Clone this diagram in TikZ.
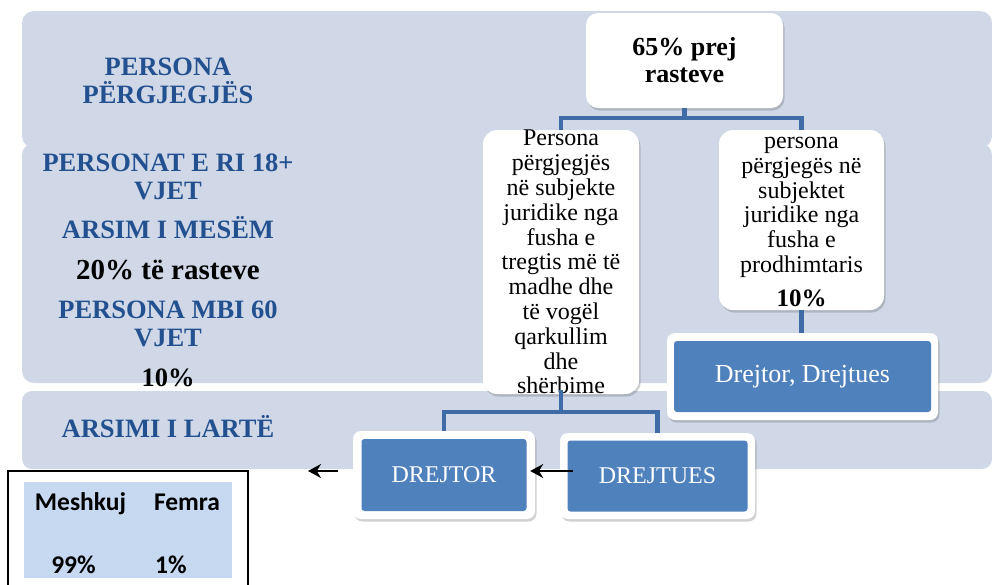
\documentclass[tikz,border=0pt]{standalone}
\usepackage{fontspec}
\setmainfont{Liberation Serif}
\newfontfamily\calfont{Carlito}
\usetikzlibrary{shadows,arrows.meta}
\definecolor{bandc}{HTML}{D0D8E8}
\definecolor{titleblue}{HTML}{23508F}
\definecolor{connc}{HTML}{3F6CA6}
\definecolor{boxblue}{HTML}{4F81BD}
\definecolor{tblfill}{HTML}{C6D9F1}
\begin{document}
\begin{tikzpicture}[x=1pt,y=-1pt,
  band/.style={fill=bandc,draw=none,rounded corners=12pt},
  headtxt/.style={text=titleblue,font=\fontsize{26.5}{28}\selectfont\bfseries,align=center,inner sep=0pt},
  numtxt/.style={text=black,font=\bfseries,inner sep=0pt},
  softshadow/.style={drop shadow={shadow xshift=1.5pt,shadow yshift=-2.5pt,fill=black!60,opacity=0.3}},
  whitebox/.style={fill=white,draw=none,rounded corners=12pt,softshadow,inner sep=0pt},
  childtxt/.style={font=\rmfamily\fontsize{24}{24.8}\selectfont,align=center,inner sep=0pt},
  outerbox/.style={fill=white,draw=none,rounded corners=8pt,softshadow,inner sep=0pt},
  innerbox/.style={fill=boxblue,draw=none,rounded corners=3pt,text=white,inner sep=0pt},
  conn/.style={draw=connc,line width=4.5pt},
  arr/.style={draw=black,line width=1.6pt,-{Stealth[length=13pt,width=14pt]}},
  tbltxt/.style={font=\calfont\bfseries\fontsize{25.5}{26}\selectfont,inner sep=0pt,anchor=base}
]
\useasboundingbox (0,0) rectangle (992,584);
% background bands
\fill[band] (22,11) rectangle (992,148);
\fill[band] (22,143) rectangle (992,383);
\fill[band,rounded corners=10pt] (22,391) rectangle (992,469);

% left headings
\node[headtxt] (h1) at (168,81) {PERSONA\\PËRGJEGJËS};
\node[headtxt] (h2) at (168,177) {PERSONAT E RI 18+\\VJET};
\node[headtxt,anchor=base] (h3) at (168,238) {ARSIM I MESËM};
\node[numtxt,font=\fontsize{29}{30}\selectfont\bfseries,anchor=base] (h4) at (168,279) {20\% të rasteve};
\node[headtxt] (h5) at (168,324) {PERSONA MBI 60\\VJET};
\node[numtxt,font=\fontsize{26.5}{28}\selectfont\bfseries,anchor=base] (h6) at (168,386) {10\%};
\node[headtxt,anchor=base] (h7) at (168,437) {ARSIMI I LARTË};

% hierarchy boxes
\node[whitebox,minimum width=197pt,minimum height=95pt,align=center,
      font=\fontsize{26}{27}\selectfont\bfseries] (top) at (684.5,60.5) {65\% prej\\rasteve};
\node[whitebox,rounded corners=14pt,minimum width=156pt,minimum height=264pt] (lc) at (561,262) {};
\node[childtxt,anchor=north] (lct) at (561,130) {Persona\\përgjegjës\\në subjekte\\juridike nga\\fusha e\\tregtis më të\\madhe dhe\\të vogël\\qarkullim\\dhe\\shërbime};
\node[whitebox,rounded corners=14pt,minimum width=165pt,minimum height=180pt] (rc) at (801.5,220) {};
\node[childtxt,anchor=north] (rct) at (801.5,137) {persona\\përgjegës në\\subjektet\\juridike nga\\fusha e\\prodhimtaris\\[9pt]\textbf{\fontsize{25}{25}\selectfont 10\%}};

\node[outerbox,minimum width=271pt,minimum height=87pt] (ddo) at (802.5,376.5) {};
\node[innerbox,minimum width=257pt,minimum height=71pt,font=\fontsize{26}{27}\selectfont] (dd) at (802.5,376.5) {Drejtor, Drejtues};

\node[outerbox,minimum width=182pt,minimum height=88pt] (dro) at (444,475) {};
\node[innerbox,minimum width=165pt,minimum height=72pt,font=\fontsize{24}{25}\selectfont] (dr) at (444,475) {DREJTOR};

\node[outerbox,minimum width=195pt,minimum height=86pt] (dto) at (657.5,476) {};
\node[innerbox,minimum width=180pt,minimum height=71pt,font=\fontsize{24}{25}\selectfont] (dt) at (657.5,476) {DREJTUES};

% connectors
\coordinate (hub1) at (684.5,118);
\coordinate (hub2) at (561,412);
\draw[conn] (top.south) -- (hub1);
\draw[conn] (hub1) -| (lc.north);
\draw[conn] (hub1) -| (rc.north);
\draw[conn] (rc.south) -- (rc.south |- ddo.north);
\draw[conn] ([yshift=4pt]lc.south) -- (hub2);
\draw[conn] (hub2) -| (dro.north);
\draw[conn] (hub2) -| (dto.north);

% arrows
\draw[arr] ([xshift=13pt,yshift=5pt]dto.west) -- ([xshift=-5pt,yshift=4pt]dro.east);
\coordinate (la) at (338,471);
\coordinate (lb) at (308,471);
\draw[arr] (la) -- (lb);

% table
\fill[tblfill] (24,482) rectangle (232,578);
\draw[black,line width=1.5pt] (248,600) -- (248,471) -- (8,471) -- (8,600);
\node[tbltxt] (m1) at (80.5,510) {Meshkuj};
\node[tbltxt] (f1) at (187,510) {Femra};
\node[tbltxt] (m2) at (73.5,573) {99\%};
\node[tbltxt] (f2) at (171,573) {1\%};
\end{tikzpicture}
\end{document}
